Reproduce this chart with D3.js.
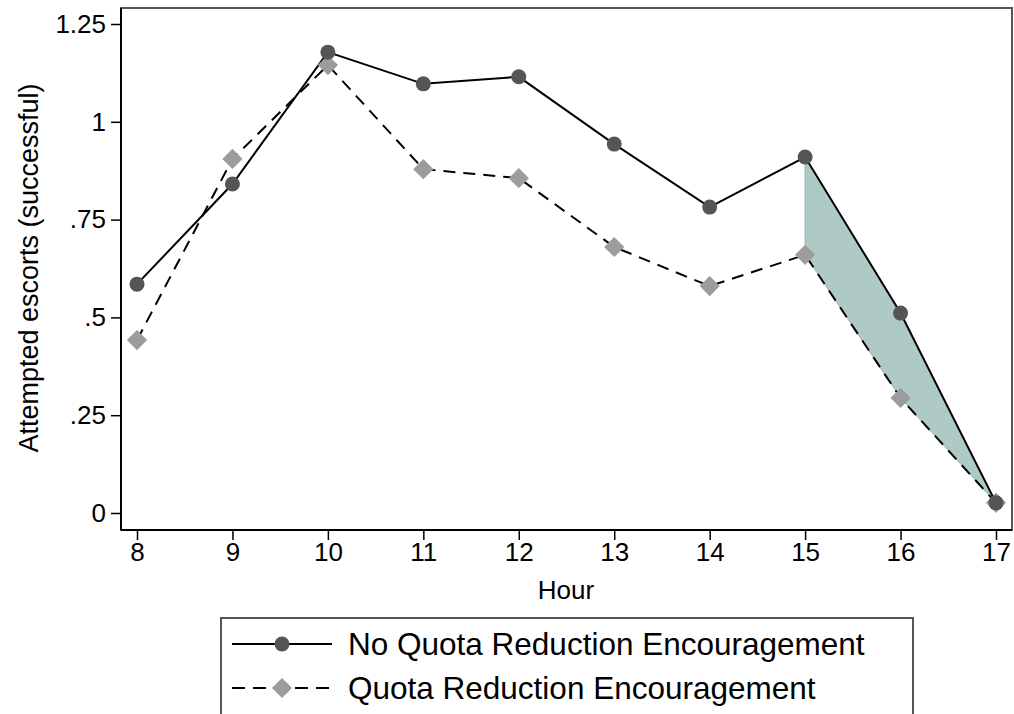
<!DOCTYPE html>
<html>
<head>
<meta charset="utf-8">
<script src="https://cdn.jsdelivr.net/npm/d3@7"></script>
<style>
  body { margin: 0; background: #fff; }
  text { font-family: "Liberation Sans", Arial, sans-serif; fill: #000; }
</style>
</head>
<body>
<div id="chart"></div>
<script>
// data
var hours = [8, 9, 10, 11, 12, 13, 14, 15, 16, 17];
var noQuota = [0.585, 0.841, 1.178, 1.097, 1.115, 0.943, 0.782, 0.910, 0.511, 0.026];
var quota = [0.442, 0.905, 1.145, 0.879, 0.856, 0.680, 0.580, 0.660, 0.294, 0.026];
var yTicks = [0, 0.25, 0.5, 0.75, 1, 1.25];
var yTickLabels = ["0", ".25", ".5", ".75", "1", "1.25"];
var shadeFrom = 15, shadeTo = 17;
var seriesNames = ["No Quota Reduction Encouragement", "Quota Reduction Encouragement"];

var width = 1014, height = 714;
var svg = d3.select("#chart").append("svg")
    .attr("width", width)
    .attr("height", height);

// plot frame
var frame = { left: 121, right: 1012, top: 8, bottom: 530 };

var x = d3.scaleLinear().domain([8, 17]).range([137, 996]);
var y = d3.scaleLinear().domain([0, 1.25]).range([513, 24]);

svg.append("rect")
    .attr("x", frame.left)
    .attr("y", frame.top)
    .attr("width", frame.right - frame.left)
    .attr("height", frame.bottom - frame.top)
    .style("fill", "none")
    .style("stroke", "#555")
    .style("stroke-width", 2);

// axes
var yAxis = d3.axisLeft(y)
    .tickValues(yTicks)
    .tickFormat(function(d, i) { return yTickLabels[i]; })
    .tickSize(10)
    .tickPadding(5);
var gy = svg.append("g")
    .attr("transform", "translate(" + frame.left + ",0)")
    .call(yAxis);
gy.select(".domain").attr("d", "M0," + frame.top + "V" + frame.bottom);

var xAxis = d3.axisBottom(x)
    .tickValues(hours)
    .tickFormat(d3.format("d"))
    .tickSize(10)
    .tickPadding(3);
var gx = svg.append("g")
    .attr("transform", "translate(0," + frame.bottom + ")")
    .call(xAxis);
gx.select(".domain").attr("d", "M" + frame.left + ",0H" + frame.right);

svg.selectAll(".domain")
    .style("stroke", "#000")
    .style("stroke-width", 2);
svg.selectAll(".tick line")
    .style("stroke", "#000")
    .style("stroke-width", 1.5);
svg.selectAll(".tick text")
    .style("font-size", "26px")
    .style("font-family", "'Liberation Sans', Arial, sans-serif");

svg.append("text")
    .attr("transform", "translate(38,268) rotate(-90)")
    .attr("text-anchor", "middle")
    .style("font-size", "27px")
    .text("Attempted escorts (successful)");

svg.append("text")
    .attr("x", 566)
    .attr("y", 599)
    .attr("text-anchor", "middle")
    .style("font-size", "26px")
    .text("Hour");

// rows for drawing
var rows = hours.map(function(h, i) {
    return { hour: h, a: noQuota[i], b: quota[i] };
});

// shaded gap between the two series
var shade = rows.filter(function(d) { return d.hour >= shadeFrom && d.hour <= shadeTo; });
var area = d3.area()
    .x(function(d) { return x(d.hour); })
    .y0(function(d) { return y(d.b); })
    .y1(function(d) { return y(d.a); });

var lineA = d3.line()
    .x(function(d) { return x(d.hour); })
    .y(function(d) { return y(d.a); });
var lineB = d3.line()
    .x(function(d) { return x(d.hour); })
    .y(function(d) { return y(d.b); });

svg.append("path")
    .datum(shade)
    .attr("d", area)
    .style("fill", "#afcac6")
    .style("stroke", "#95b3ae")
    .style("stroke-width", 1);

svg.append("path")
    .datum(rows)
    .attr("d", lineB)
    .style("fill", "none")
    .style("stroke", "#000")
    .style("stroke-width", 2)
    .style("stroke-dasharray", "12,8");

svg.append("path")
    .datum(rows)
    .attr("d", lineA)
    .style("fill", "none")
    .style("stroke", "#000")
    .style("stroke-width", 2);

var diamond = d3.symbol().type(d3.symbolDiamond2).size(260);

svg.selectAll(".ptB")
    .data(rows)
  .enter().append("path")
    .attr("class", "ptB")
    .attr("transform", function(d) { return "translate(" + x(d.hour) + "," + y(d.b) + ")"; })
    .attr("d", diamond)
    .style("fill", "#9c9c9c");

svg.selectAll(".ptA")
    .data(rows)
  .enter().append("circle")
    .attr("class", "ptA")
    .attr("cx", function(d) { return x(d.hour); })
    .attr("cy", function(d) { return y(d.a); })
    .attr("r", 7.5)
    .style("fill", "#555");

// legend
var legend = svg.append("g");
legend.append("rect")
    .attr("x", 221)
    .attr("y", 618)
    .attr("width", 692)
    .attr("height", 110)
    .style("fill", "#fff")
    .style("stroke", "#555")
    .style("stroke-width", 2);

var legRows = [
    { name: seriesNames[0], y: 644, dash: null, kind: "circle" },
    { name: seriesNames[1], y: 688, dash: "13,8", kind: "diamond" }
];

legRows.forEach(function(r) {
    legend.append("line")
        .attr("x1", 232).attr("x2", 332)
        .attr("y1", r.y).attr("y2", r.y)
        .style("stroke", "#000")
        .style("stroke-width", 2)
        .style("stroke-dasharray", r.dash);
    if (r.kind === "circle") {
        legend.append("circle")
            .attr("cx", 282).attr("cy", r.y).attr("r", 7.5)
            .style("fill", "#555");
    } else {
        legend.append("path")
            .attr("transform", "translate(282," + r.y + ")")
            .attr("d", diamond)
            .style("fill", "#9c9c9c");
    }
    legend.append("text")
        .attr("x", 348)
        .attr("y", r.y + 11)
        .style("font-size", "31.5px")
        .text(r.name);
});
</script>
</body>
</html>
